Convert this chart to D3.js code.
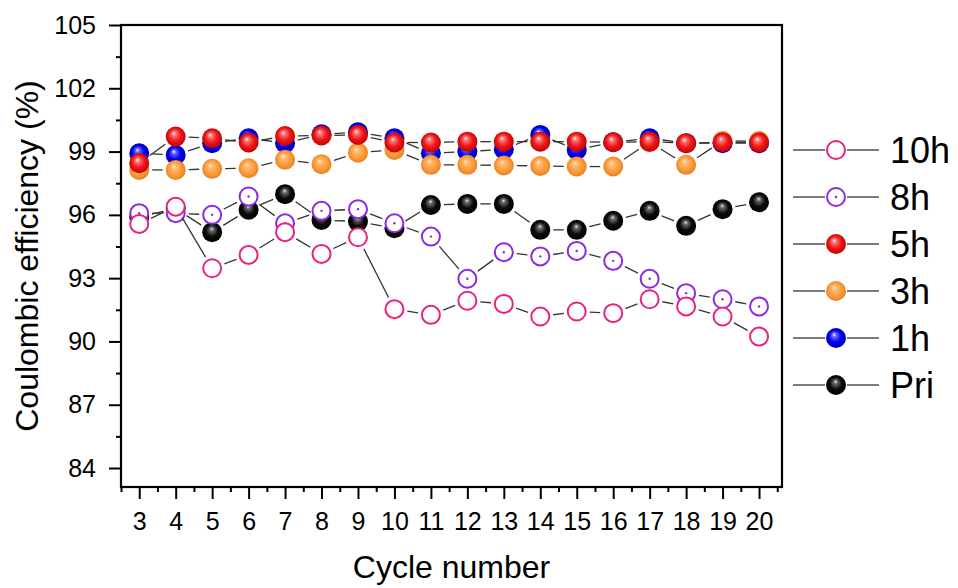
<!DOCTYPE html>
<html>
<head>
<meta charset="utf-8">
<script src="https://cdn.jsdelivr.net/npm/d3@7"></script>
<style>
  body { margin: 0; background: #fff; }
  text { font-family: Arial, "Liberation Sans", sans-serif; fill: #000; }
</style>
</head>
<body>
<svg id="chart" width="958" height="588"></svg>
<script>
const cycles = [3, 4, 5, 6, 7, 8, 9, 10, 11, 12, 13, 14, 15, 16, 17, 18, 19, 20];

const pri = [95.9, 96.3, 95.18, 96.24, 96.98, 95.76, 95.68, 95.37, 96.47, 96.52, 96.52, 95.29, 95.29, 95.72, 96.19, 95.48, 96.27, 96.6];
const h1 = [98.92, 98.84, 99.4, 99.63, 99.4, 99.82, 99.92, 99.63, 98.92, 99.0, 99.11, 99.79, 99.08, 99.44, 99.63, 99.4, 99.4, 99.4];
const h3 = [98.13, 98.13, 98.18, 98.21, 98.61, 98.4, 98.95, 99.08, 98.37, 98.37, 98.34, 98.32, 98.29, 98.29, 99.45, 98.37, 99.5, 99.5];
const h5 = [98.45, 99.71, 99.63, 99.43, 99.74, 99.76, 99.79, 99.43, 99.43, 99.47, 99.47, 99.47, 99.47, 99.44, 99.47, 99.4, 99.44, 99.43];
const h8 = [96.08, 96.08, 96.0, 96.87, 95.6, 96.19, 96.27, 95.6, 94.97, 92.97, 94.23, 94.03, 94.29, 93.82, 92.97, 92.29, 92.0, 91.66];
const h10 = [95.57, 96.39, 93.47, 94.1, 95.18, 94.15, 94.94, 91.53, 91.26, 91.93, 91.78, 91.18, 91.42, 91.34, 92.0, 91.66, 91.18, 90.23];

const yTicks = [84, 87, 90, 93, 96, 99, 102, 105];

// drawing order (bottom to top)
const series = [
  { name: 'Pri', values: pri, kind: 'ball', color: '#000000' },
  { name: '1h', values: h1, kind: 'ball', color: '#0000ff' },
  { name: '3h', values: h3, kind: 'ball', color: '#ffa040' },
  { name: '5h', values: h5, kind: 'ball', color: '#ff1f1f' },
  { name: '8h', values: h8, kind: 'ring', color: '#8a2be2', dot: true },
  { name: '10h', values: h10, kind: 'ring', color: '#e8237f' }
];
const legendOrder = ['10h', '8h', '5h', '3h', '1h', 'Pri'];

const margin = { left: 121, right: 782, top: 25, bottom: 487 };
const R = 10;

const svg = d3.select('#chart');
const x = d3.scaleLinear().domain([2.5, 20.63]).range([margin.left, margin.right]);
const y = d3.scaleLinear().domain([83.1, 105]).range([margin.bottom, margin.top]);

// sphere gradients
const defs = svg.append('defs');
const shades = {
  '#000000': ['#e8e8e8', '#6a6a6a', '#0a0a0a', '#000000'],
  '#0000ff': ['#ffffff', '#6a6aff', '#0000f0', '#0000b0'],
  '#ffa040': ['#fff0d8', '#ffbe7a', '#ff9f3f', '#e07f20'],
  '#ff1f1f': ['#ffffff', '#ff7a7a', '#f01818', '#b80000']
};
Object.entries(shades).forEach(([c, s], i) => {
  const g = defs.append('radialGradient')
    .attr('id', 'ball' + i)
    .attr('cx', '50%').attr('cy', '50%').attr('r', '55%')
    .attr('fx', c === '#000000' ? '48%' : '40%').attr('fy', '32%');
  g.append('stop').attr('offset', '0%').attr('stop-color', s[0]);
  g.append('stop').attr('offset', '18%').attr('stop-color', s[1]);
  g.append('stop').attr('offset', '55%').attr('stop-color', s[2]);
  g.append('stop').attr('offset', '100%').attr('stop-color', s[3]);
  shades[c].id = 'ball' + i;
});

// axes
const xAxis = d3.axisBottom(x).tickValues(cycles).tickSize(12).tickPadding(13);
const gx = svg.append('g').attr('transform', `translate(0,${margin.bottom})`).call(xAxis);
gx.selectAll('text').attr('font-size', 25);
svg.append('g').attr('transform', `translate(0,${margin.bottom})`)
  .call(d3.axisBottom(x).tickValues(d3.range(2.5, 20.6, 1)).tickSize(5).tickFormat(''));

const yAxis = d3.axisLeft(y).tickValues(yTicks).tickSize(12).tickPadding(13);
const gy = svg.append('g').attr('transform', `translate(${margin.left},0)`).call(yAxis);
gy.selectAll('text').attr('font-size', 25);
svg.append('g').attr('transform', `translate(${margin.left},0)`)
  .call(d3.axisLeft(y).tickValues(d3.range(85.5, 105, 3)).tickSize(5).tickFormat(''));

svg.selectAll('.domain').remove();
svg.selectAll('.tick line').attr('stroke', '#000').attr('stroke-width', 2);

svg.append('rect')
  .attr('x', margin.left).attr('y', margin.top)
  .attr('width', margin.right - margin.left).attr('height', margin.bottom - margin.top)
  .attr('fill', 'none').attr('stroke', '#000').attr('stroke-width', 2.2);

svg.append('text')
  .attr('x', (margin.left + margin.right) / 2).attr('y', 578)
  .attr('text-anchor', 'middle').attr('font-size', 32)
  .text('Cycle number');
svg.append('text')
  .attr('transform', `translate(38,${(margin.top + margin.bottom) / 2}) rotate(-90)`)
  .attr('text-anchor', 'middle').attr('font-size', 32)
  .text('Coulombic efficiency (%)');

const drawMarker = (g, s, cx, cy, r) => {
  if (s.kind === 'ball') {
    g.append('circle').attr('cx', cx).attr('cy', cy).attr('r', r)
      .attr('fill', `url(#${shades[s.color].id})`);
  } else {
    g.append('circle').attr('cx', cx).attr('cy', cy).attr('r', r - 1)
      .attr('fill', '#fff').attr('stroke', s.color).attr('stroke-width', 2);
    if (s.dot) {
      g.append('circle').attr('cx', cx).attr('cy', cy).attr('r', 1.2).attr('fill', s.color);
    }
  }
};

// series: line with gap to symbol, then symbols
series.forEach(s => {
  const g = svg.append('g');
  const pts = s.values.map((v, i) => [x(cycles[i]), y(v)]);
  d3.pairs(pts).forEach(([a, b]) => {
    const dx = b[0] - a[0], dy = b[1] - a[1];
    const len = Math.hypot(dx, dy);
    const gap = R + 3;
    if (len <= 2 * gap) return;
    const ux = dx / len, uy = dy / len;
    g.append('line')
      .attr('x1', a[0] + ux * gap).attr('y1', a[1] + uy * gap)
      .attr('x2', b[0] - ux * gap).attr('y2', b[1] - uy * gap)
      .attr('stroke', '#333').attr('stroke-width', 1.3);
  });
  pts.forEach(p => drawMarker(g, s, p[0], p[1], R));
});

// legend
const legend = svg.append('g');
legendOrder.forEach((name, i) => {
  const s = series.find(d => d.name === name);
  const cy = 150 + i * 47;
  legend.append('line').attr('x1', 793).attr('x2', 825).attr('y1', cy).attr('y2', cy)
    .attr('stroke', '#333').attr('stroke-width', 1.3);
  legend.append('line').attr('x1', 847).attr('x2', 879).attr('y1', cy).attr('y2', cy)
    .attr('stroke', '#333').attr('stroke-width', 1.3);
  drawMarker(legend, s, 836, cy, 10);
  legend.append('text').attr('x', 890).attr('y', cy + 13)
    .attr('font-size', 36).text(name);
});
</script>
</body>
</html>
